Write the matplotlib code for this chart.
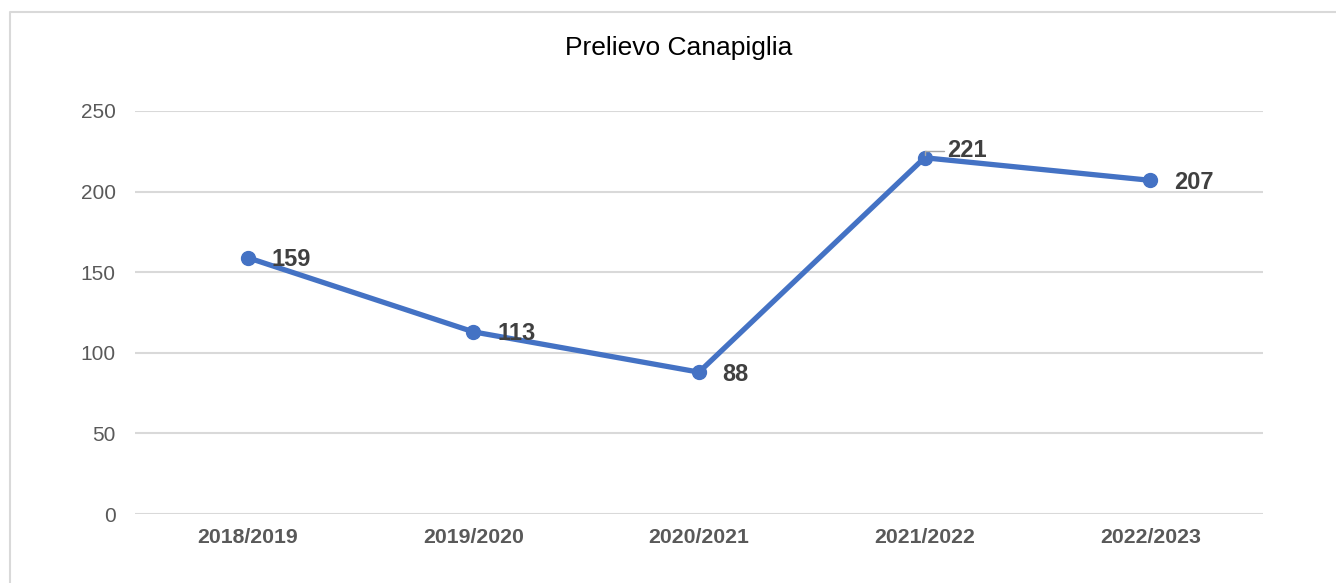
import matplotlib.pyplot as plt
from matplotlib.lines import Line2D

# data
seasons = ["2018/2019", "2019/2020", "2020/2021", "2021/2022", "2022/2023"]
prelievo = [159, 113, 88, 221, 207]
yticks = [0, 50, 100, 150, 200, 250]

plt.rcParams['font.family'] = ['Liberation Sans', 'DejaVu Sans']

W, H = 1336, 583
fig = plt.figure(figsize=(W / 100, H / 100), dpi=100)
ax = fig.add_axes([135 / W, 1 - 514 / H, (1263 - 135) / W, (514 - 111) / H])

ax.plot(range(len(seasons)), prelievo, color='#4472C4', lw=3.8,
        marker='o', ms=10, zorder=3, solid_capstyle='round')

# data labels, right of each point
for i, v in enumerate(prelievo):
    if v == 221:
        ax.annotate(str(v), (i, v), xytext=(16, 5), textcoords='offset points',
                    ha='left', va='center', fontsize=17, fontweight='bold',
                    color='#404040',
                    arrowprops=dict(arrowstyle='-', color='#A6A6A6', lw=1,
                                    shrinkA=0, shrinkB=2,
                                    connectionstyle='angle,angleA=0,angleB=90,rad=0'))
    else:
        ax.annotate(str(v), (i, v), xytext=(17, -1.5), textcoords='offset points',
                    ha='left', va='center', fontsize=17, fontweight='bold',
                    color='#404040')

ax.set_xlim(-0.5, len(seasons) - 0.5)
ax.set_ylim(0, 250)
ax.set_yticks(yticks)
ax.set_xticks(range(len(seasons)))
ax.set_xticklabels(seasons, fontweight='bold', fontsize=15.3)
ax.tick_params(axis='both', length=0, colors='#595959')
ax.tick_params(axis='y', pad=14, labelsize=15)
ax.tick_params(axis='x', pad=10)
ax.grid(axis='y', color='#D9D9D9', lw=1.5)
ax.set_axisbelow(True)
for s in ax.spines.values():
    s.set_visible(False)

fig.text(679 / W, 1 - 48 / H, "Prelievo Canapiglia", ha='center', va='center',
         fontsize=19, color='black')

# outer chart border (top and left visible)
fig.add_artist(Line2D([10 / W, 10 / W, 1], [0, 1 - 12 / H, 1 - 12 / H],
                      color='#D9D9D9', lw=1.5, transform=fig.transFigure))

fig.savefig('out.png', dpi=100)
